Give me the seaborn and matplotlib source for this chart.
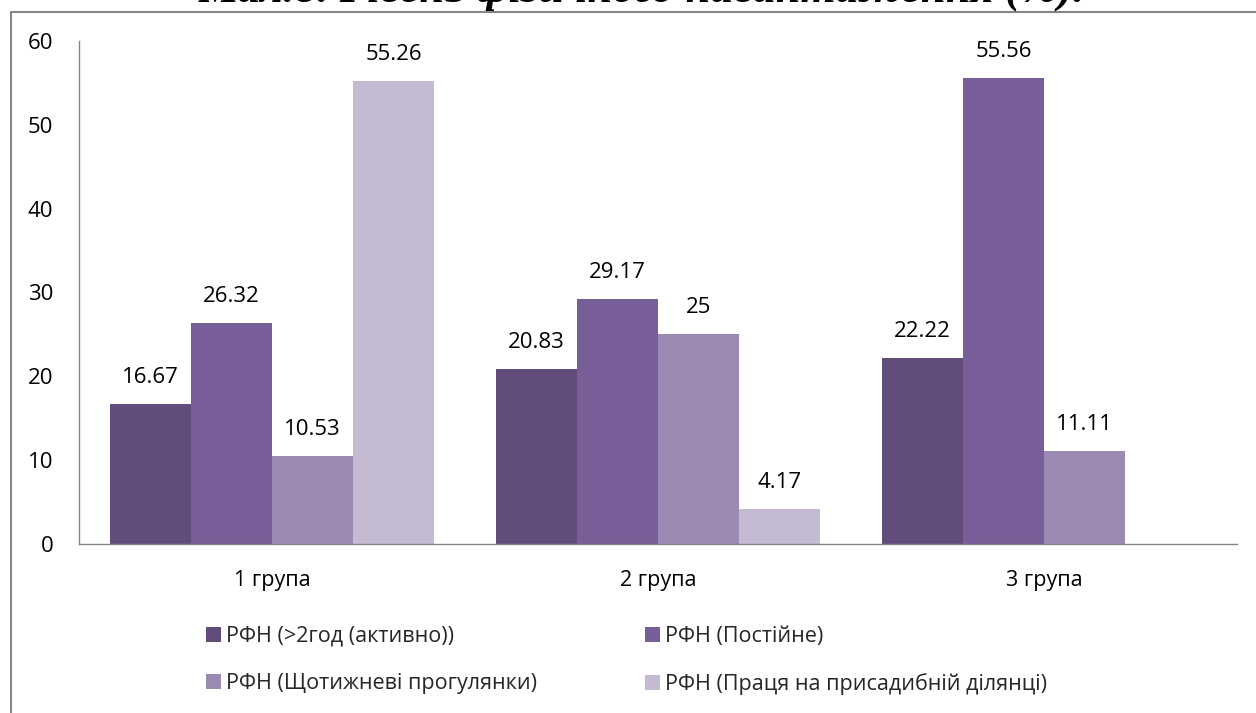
import numpy as np
import pandas as pd
import seaborn as sns
import matplotlib.pyplot as plt
from matplotlib.lines import Line2D
from matplotlib.patches import Patch

# Categories, series and values
groups = ["1 група", "2 група", "3 група"]
series = [
    "РФН (>2год (активно))",
    "РФН (Постійне)",
    "РФН (Щотижневі прогулянки)",
    "РФН (Праця на присадибній ділянці)",
]
active = [16.67, 20.83, 22.22]
constant = [26.32, 29.17, 55.56]
weekly_walks = [10.53, 25.0, 11.11]
garden_work = [55.26, 4.17, np.nan]
label_text = [
    ["16.67", "20.83", "22.22"],
    ["26.32", "29.17", "55.56"],
    ["10.53", "25", "11.11"],
    ["55.26", "4.17", ""],
]
y_ticks = [0, 10, 20, 30, 40, 50, 60]
title = "Мал.8. Рівень фізичного навантаження (%)."

colors = ["#624c7c", "#775e98", "#9c89b4", "#c4bad2"]

rows = []
for s, vals in zip(series, [active, constant, weekly_walks, garden_work]):
    for g, v in zip(groups, vals):
        rows.append({"group": g, "series": s, "value": v})
df = pd.DataFrame(rows)

sns.set_theme(style="white")
body_font = ["Open Sans", "DejaVu Sans"]
plt.rcParams["font.family"] = body_font
FS = 15.5

W, H = 1256, 713
fig = plt.figure(figsize=(W / 100, H / 100), dpi=100)
ax = fig.add_axes([79 / W, 1 - 544 / H, (1237 - 79) / W, (544 - 41) / H])

sns.barplot(data=df, x="group", y="value", hue="series", palette=colors,
            width=0.839, saturation=1, ax=ax, legend=False, errorbar=None,
            linewidth=0)

# Value labels above each drawn bar
for container, labels in zip(ax.containers, label_text):
    for bar, txt in zip(container, labels):
        if bar is None or not txt:
            continue
        ax.annotate(txt, (bar.get_x() + bar.get_width() / 2, bar.get_height()),
                    xytext=(0, 11.5), textcoords="offset points",
                    ha="center", va="bottom", fontsize=16, color="#000000",
                    family=body_font)

ax.set_ylim(0, 60)
ax.set_xlim(-0.5, 2.5)
ax.set_yticks(y_ticks)
ax.set_yticklabels([str(t) for t in y_ticks], fontsize=16, color="#000000")
ax.tick_params(axis="y", length=0, pad=18.5)
ax.tick_params(axis="x", length=0, pad=19, labelsize=FS, labelcolor="#000000")
ax.set_xlabel("")
ax.set_ylabel("")
for side in ["top", "right"]:
    ax.spines[side].set_visible(False)
for side in ["left", "bottom"]:
    ax.spines[side].set_color("#868686")
    ax.spines[side].set_linewidth(1.0)

# Outer chart frame
frame_kw = dict(color="#868686", linewidth=1.5, transform=fig.transFigure)
fig.add_artist(Line2D([10.5 / W, 10.5 / W], [0, 1 - 11.5 / H], **frame_kw))
fig.add_artist(Line2D([10.5 / W, 1], [1 - 11.5 / H, 1 - 11.5 / H], **frame_kw))

# Title, running off the top edge
fig.text(642 / W, 1 - 2 / H, title, ha="center", va="baseline",
         fontsize=32.5, fontweight="bold", fontstyle="italic",
         family=["Liberation Serif", "DejaVu Serif"], color="#000000")

handles = [Patch(facecolor=c, edgecolor="none") for c in colors]
order = [0, 2, 1, 3]
fig.legend([handles[i] for i in order], [series[i] for i in order],
           ncol=2, loc="upper left", bbox_to_anchor=(206 / W, 1 - 626 / H),
           frameon=False, fontsize=FS, handlelength=0.7, handleheight=0.7,
           handletextpad=0.23, labelspacing=1.21, columnspacing=5.0,
           borderaxespad=0, borderpad=0)

fig.savefig("out.png", dpi=100)
